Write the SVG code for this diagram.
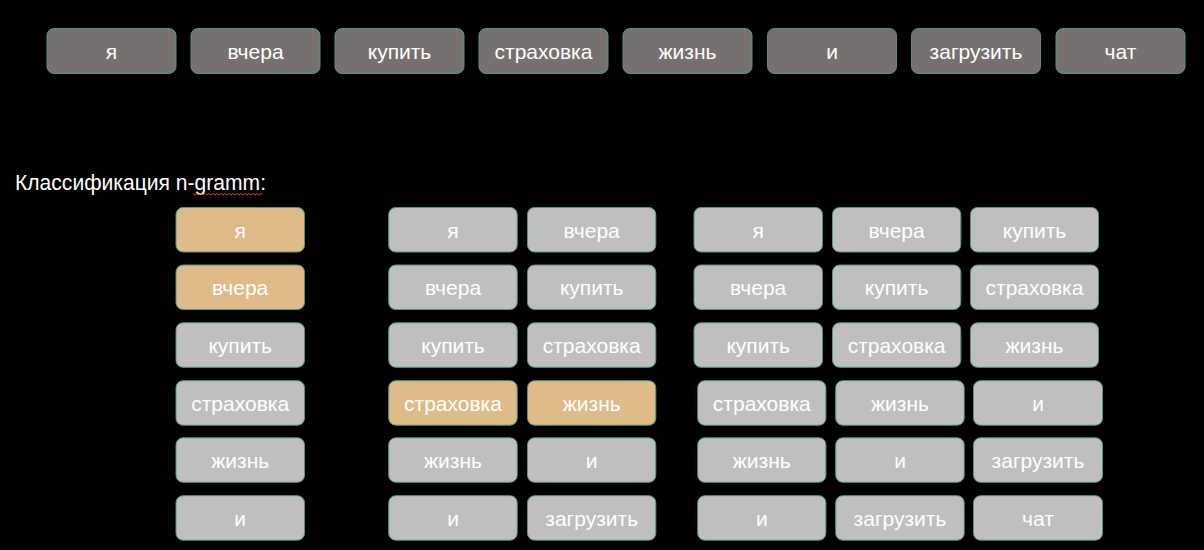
<svg xmlns="http://www.w3.org/2000/svg" width="1204" height="550" viewBox="0 0 1204 550">
<style>
  .bx rect { stroke: #4e9a78; stroke-width: 1; }
  .dk rect { fill: #767170; }
  .gr rect { fill: #bfbfbf; }
  .hl rect { fill: #dfbb8a; }
  text { font-family: "Liberation Sans", Arial, sans-serif; font-size: 21px; fill: #ffffff; text-anchor: middle; }
  .title { text-anchor: start; font-size: 22px; }
</style>
<rect x="0" y="0" width="1204" height="550" fill="#000000"/>

<g id="sentence">
  <g id="t1" class="bx dk"><rect x="47" y="28.5" width="129" height="45" rx="7"/><text x="111.5" y="58.5">я</text></g>
  <g id="t2" class="bx dk"><rect x="191" y="28.5" width="129" height="45" rx="7"/><text x="255.5" y="58.5">вчера</text></g>
  <g id="t3" class="bx dk"><rect x="335" y="28.5" width="129" height="45" rx="7"/><text x="399.5" y="58.5">купить</text></g>
  <g id="t4" class="bx dk"><rect x="479" y="28.5" width="129" height="45" rx="7"/><text x="543.5" y="58.5">страховка</text></g>
  <g id="t5" class="bx dk"><rect x="623" y="28.5" width="129" height="45" rx="7"/><text x="687.5" y="58.5">жизнь</text></g>
  <g id="t6" class="bx dk"><rect x="767.5" y="28.5" width="129" height="45" rx="7"/><text x="832" y="58.5">и</text></g>
  <g id="t7" class="bx dk"><rect x="911.5" y="28.5" width="129" height="45" rx="7"/><text x="976" y="58.5">загрузить</text></g>
  <g id="t8" class="bx dk"><rect x="1056" y="28.5" width="129" height="45" rx="7"/><text x="1120.5" y="58.5">чат</text></g>
</g>

<g id="title">
  <text class="title" x="15" y="189.5" textLength="251" lengthAdjust="spacingAndGlyphs">Классификация n-gramm:</text>
  <path d="M193 193.5 l2 1.6 l2 -1.6 l2 1.6 l2 -1.6 l2 1.6 l2 -1.6 l2 1.6 l2 -1.6 l2 1.6 l2 -1.6 l2 1.6 l2 -1.6 l2 1.6 l2 -1.6 l2 1.6 l2 -1.6 l2 1.6 l2 -1.6 l2 1.6 l2 -1.6 l2 1.6 l2 -1.6 l2 1.6 l2 -1.6 l2 1.6 l2 -1.6 l2 1.6 l2 -1.6 l2 1.6 l2 -1.6 l2 1.6 l2 -1.6 l2 1.6 l2 -1.6 l2 1.6" fill="none" stroke="#e03a3a" stroke-width="1"/>
</g>

<g id="unigrams">
  <g id="u1" class="bx hl"><rect x="176" y="207.5" width="128.5" height="44.5" rx="7"/><text x="240.2" y="237.5">я</text></g>
  <g id="u2" class="bx hl"><rect x="176" y="265" width="128.5" height="44.5" rx="7"/><text x="240.2" y="295">вчера</text></g>
  <g id="u3" class="bx gr"><rect x="176" y="322.8" width="128.5" height="44.5" rx="7"/><text x="240.2" y="352.8">купить</text></g>
  <g id="u4" class="bx gr"><rect x="176" y="380.7" width="128.5" height="44.5" rx="7"/><text x="240.2" y="410.7">страховка</text></g>
  <g id="u5" class="bx gr"><rect x="176" y="437.8" width="128.5" height="44.5" rx="7"/><text x="240.2" y="467.8">жизнь</text></g>
  <g id="u6" class="bx gr"><rect x="176" y="495.7" width="128.5" height="44.5" rx="7"/><text x="240.2" y="525.7">и</text></g>
</g>

<g id="bigrams">
  <g id="b1a" class="bx gr"><rect x="388.7" y="207.5" width="128.5" height="44.5" rx="7"/><text x="453" y="237.5">я</text></g>
  <g id="b1b" class="bx gr"><rect x="527.5" y="207.5" width="128.3" height="44.5" rx="7"/><text x="591.7" y="237.5">вчера</text></g>
  <g id="b2a" class="bx gr"><rect x="388.7" y="265" width="128.5" height="44.5" rx="7"/><text x="453" y="295">вчера</text></g>
  <g id="b2b" class="bx gr"><rect x="527.5" y="265" width="128.3" height="44.5" rx="7"/><text x="591.7" y="295">купить</text></g>
  <g id="b3a" class="bx gr"><rect x="388.7" y="322.8" width="128.5" height="44.5" rx="7"/><text x="453" y="352.8">купить</text></g>
  <g id="b3b" class="bx gr"><rect x="527.5" y="322.8" width="128.3" height="44.5" rx="7"/><text x="591.7" y="352.8">страховка</text></g>
  <g id="b4a" class="bx hl"><rect x="388.7" y="380.7" width="128.5" height="44.5" rx="7"/><text x="453" y="410.7">страховка</text></g>
  <g id="b4b" class="bx hl"><rect x="527.5" y="380.7" width="128.3" height="44.5" rx="7"/><text x="591.7" y="410.7">жизнь</text></g>
  <g id="b5a" class="bx gr"><rect x="388.7" y="437.8" width="128.5" height="44.5" rx="7"/><text x="453" y="467.8">жизнь</text></g>
  <g id="b5b" class="bx gr"><rect x="527.5" y="437.8" width="128.3" height="44.5" rx="7"/><text x="591.7" y="467.8">и</text></g>
  <g id="b6a" class="bx gr"><rect x="388.7" y="495.7" width="128.5" height="44.5" rx="7"/><text x="453" y="525.7">и</text></g>
  <g id="b6b" class="bx gr"><rect x="527.5" y="495.7" width="128.3" height="44.5" rx="7"/><text x="591.7" y="525.7">загрузить</text></g>
</g>

<g id="trigrams">
  <g id="c1a" class="bx gr"><rect x="694" y="207.5" width="128.5" height="44.5" rx="7"/><text x="758.2" y="237.5">я</text></g>
  <g id="c1b" class="bx gr"><rect x="832.5" y="207.5" width="128.3" height="44.5" rx="7"/><text x="896.6" y="237.5">вчера</text></g>
  <g id="c1c" class="bx gr"><rect x="970.5" y="207.5" width="128" height="44.5" rx="7"/><text x="1034.5" y="237.5">купить</text></g>
  <g id="c2a" class="bx gr"><rect x="694" y="265" width="128.5" height="44.5" rx="7"/><text x="758.2" y="295">вчера</text></g>
  <g id="c2b" class="bx gr"><rect x="832.5" y="265" width="128.3" height="44.5" rx="7"/><text x="896.6" y="295">купить</text></g>
  <g id="c2c" class="bx gr"><rect x="970.5" y="265" width="128" height="44.5" rx="7"/><text x="1034.5" y="295">страховка</text></g>
  <g id="c3a" class="bx gr"><rect x="694" y="322.8" width="128.5" height="44.5" rx="7"/><text x="758.2" y="352.8">купить</text></g>
  <g id="c3b" class="bx gr"><rect x="832.5" y="322.8" width="128.3" height="44.5" rx="7"/><text x="896.6" y="352.8">страховка</text></g>
  <g id="c3c" class="bx gr"><rect x="970.5" y="322.8" width="128" height="44.5" rx="7"/><text x="1034.5" y="352.8">жизнь</text></g>
  <g id="c4a" class="bx gr"><rect x="697.7" y="380.7" width="128.2" height="44.5" rx="7"/><text x="761.8" y="410.7">страховка</text></g>
  <g id="c4b" class="bx gr"><rect x="835.7" y="380.7" width="128.5" height="44.5" rx="7"/><text x="900" y="410.7">жизнь</text></g>
  <g id="c4c" class="bx gr"><rect x="973.5" y="380.7" width="129" height="44.5" rx="7"/><text x="1038" y="410.7">и</text></g>
  <g id="c5a" class="bx gr"><rect x="697.7" y="437.8" width="128.2" height="44.5" rx="7"/><text x="761.8" y="467.8">жизнь</text></g>
  <g id="c5b" class="bx gr"><rect x="835.7" y="437.8" width="128.5" height="44.5" rx="7"/><text x="900" y="467.8">и</text></g>
  <g id="c5c" class="bx gr"><rect x="973.5" y="437.8" width="129" height="44.5" rx="7"/><text x="1038" y="467.8">загрузить</text></g>
  <g id="c6a" class="bx gr"><rect x="697.7" y="495.7" width="128.2" height="44.5" rx="7"/><text x="761.8" y="525.7">и</text></g>
  <g id="c6b" class="bx gr"><rect x="835.7" y="495.7" width="128.5" height="44.5" rx="7"/><text x="900" y="525.7">загрузить</text></g>
  <g id="c6c" class="bx gr"><rect x="973.5" y="495.7" width="129" height="44.5" rx="7"/><text x="1038" y="525.7">чат</text></g>
</g>

<g id="connectors"></g>
</svg>
